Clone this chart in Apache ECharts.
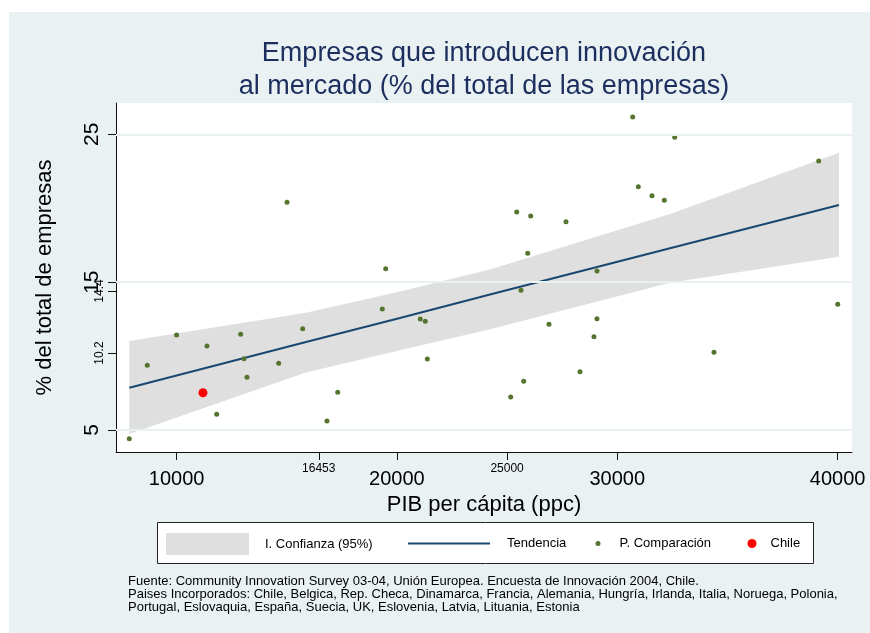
<!DOCTYPE html>
<meta charset="utf-8">
<style>
html, body { margin: 0; padding: 0; background: #fff; }
#main { width: 870px; height: 633px; }
</style>
<div id="main"></div>
<script src="https://cdn.jsdelivr.net/npm/echarts@6.0.0/dist/echarts.min.js"></script>
<script>

// PIB per capita (ppc) / % empresas, paises de comparacion
var compX = [7853, 8670, 10000, 11380, 11820, 12909, 13059, 13195, 14634, 15011,
    15723, 16826, 17312, 19336, 19490, 21061, 21288, 21378, 30701, 32607,
    39143, 30955, 31576, 32135, 25436, 26071, 27673, 25935, 29080, 25631,
    40005, 26902, 29080, 28944, 34390, 28309, 25754, 25164];
var compY = [4.41, 9.38, 11.43, 10.68, 6.06, 11.47, 9.82, 8.56, 9.51, 20.4,
    11.85, 5.61, 7.55, 13.18, 15.91, 12.51, 12.35, 9.8, 26.17, 24.8,
    23.19, 21.46, 20.85, 20.54, 19.74, 19.47, 19.09, 16.95, 15.75, 14.45,
    13.5, 12.15, 12.53, 11.31, 10.25, 8.94, 8.29, 7.23];

var chileX = [11198];
var chileY = [7.52];

// recta de tendencia e intervalo de confianza
var fitX = [7853, 15873, 20139, 24224, 32394, 40064];
var fitY = [7.86, 10.95, 12.58, 14.16, 17.29, 20.22];
var ciLow = [4.73, 8.88, 10.39, 11.81, 14.96, 16.72];
var ciHigh = [11.02, 12.93, 14.37, 15.85, 19.61, 23.76];

var xTicksBig = [10000, 20000, 30000, 40000];
var xTicksSmall = [16453, 25000];
var yTicksBig = [5, 15, 25];
var yTicksSmall = [10.2, 14.4];

var FONT = "'Liberation Sans', Arial, sans-serif";

function zip(a, b) {
    return a.map(function (v, i) { return [v, b[i]]; });
}
function plain(v) { return String(v); }

var chart = echarts.init(document.getElementById('main'));

var xBase = {
    type: 'value', min: 7250, max: 40654, gridIndex: 0, position: 'bottom',
    splitLine: { show: false }
};
var yBase = {
    type: 'value', min: 3.51, max: 27.12, gridIndex: 0, position: 'left',
    splitLine: { show: false }
};

chart.setOption({
    animation: false,
    textStyle: { fontFamily: FONT },
    graphic: [
        { type: 'rect', z: -10, shape: { x: 9, y: 12, width: 861, height: 621 },
          style: { fill: '#EAF1F3' } },
        { type: 'rect', z: -1, shape: { x: 157.5, y: 522.5, width: 656, height: 41 },
          style: { fill: '#fff', stroke: '#222', lineWidth: 1 } }
    ],
    title: [{
        text: 'Empresas que introducen innovación\nal mercado (% del total de las empresas)',
        left: 484, top: 37, textAlign: 'center', padding: 0,
        textStyle: { fontFamily: FONT, fontSize: 27, fontWeight: 'normal', color: '#1C2E5E', lineHeight: 33 }
    }, {
        text: 'Fuente: Community Innovation Survey 03-04, Unión Europea. Encuesta de Innovación 2004, Chile.\n' +
            'Paises Incorporados: Chile, Belgica, Rep. Checa, Dinamarca, Francia, Alemania, Hungría, Irlanda, Italia, Noruega, Polonia,\n' +
            'Portugal, Eslovaquia, España, Suecia, UK, Eslovenia, Latvia, Lituania, Estonia',
        left: 128, top: 575, padding: 0,
        textStyle: { fontFamily: FONT, fontSize: 13, fontWeight: 'normal', color: '#000', lineHeight: 13 }
    }],
    legend: [{
        left: 166, top: 533, padding: 0, itemWidth: 83, itemHeight: 22,
        data: [{ name: 'I. Confianza (95%)', icon: 'rect', itemStyle: { color: '#DFDFDF' } }],
        textStyle: { fontFamily: FONT, fontSize: 13, color: '#000', padding: [0, 0, 0, 11] }
    }, {
        left: 408, top: 537, padding: 0, itemWidth: 82, itemHeight: 2,
        data: [{ name: 'Tendencia', icon: 'rect', itemStyle: { color: '#1A476F' } }],
        textStyle: { fontFamily: FONT, fontSize: 13, color: '#000', padding: [0, 0, 0, 12] }
    }, {
        left: 595.5, top: 537, padding: 0, itemWidth: 5, itemHeight: 5,
        data: [{ name: 'P. Comparación', icon: 'circle', itemStyle: { color: '#55752F' } }],
        textStyle: { fontFamily: FONT, fontSize: 13, color: '#000', padding: [0, 0, 0, 14] }
    }, {
        left: 747.5, top: 537, padding: 0, itemWidth: 9, itemHeight: 9,
        data: [{ name: 'Chile', icon: 'circle', itemStyle: { color: '#FF0000' } }],
        textStyle: { fontFamily: FONT, fontSize: 13, color: '#000', padding: [0, 0, 0, 9] }
    }],
    grid: {
        left: 116, right: 18, top: 103, bottom: 181,
        show: true, backgroundColor: '#fff', borderWidth: 0
    },
    xAxis: [
        Object.assign({}, xBase, {
            name: 'PIB per cápita (ppc)', nameLocation: 'middle', nameGap: 36,
            nameTextStyle: { fontFamily: FONT, fontSize: 22, color: '#000' },
            axisLine: { show: true, lineStyle: { color: '#111', width: 1 } },
            axisTick: { show: true, length: 8, customValues: xTicksBig, lineStyle: { color: '#111' } },
            axisLabel: { customValues: xTicksBig, formatter: plain, margin: 17, fontFamily: FONT, fontSize: 20, color: '#000' }
        }),
        Object.assign({}, xBase, {
            axisLine: { show: false },
            axisTick: { show: true, length: 8, customValues: xTicksSmall, lineStyle: { color: '#111' } },
            axisLabel: { customValues: xTicksSmall, formatter: plain, margin: 11, fontFamily: FONT, fontSize: 12, color: '#000' }
        })
    ],
    yAxis: [
        Object.assign({}, yBase, {
            name: '% del total de empresas', nameLocation: 'middle', nameGap: 60,
            nameTextStyle: { fontFamily: FONT, fontSize: 22, color: '#000' },
            axisLine: { show: true, lineStyle: { color: '#111', width: 1 } },
            axisTick: { show: true, length: 8, customValues: yTicksBig, lineStyle: { color: '#111' } },
            axisLabel: { customValues: yTicksBig, formatter: plain, rotate: 90, margin: 13, fontFamily: FONT, fontSize: 21, color: '#000' }
        }),
        Object.assign({}, yBase, {
            axisLine: { show: false },
            axisTick: { show: true, length: 8, customValues: yTicksSmall, lineStyle: { color: '#111' } },
            axisLabel: { customValues: yTicksSmall, formatter: plain, rotate: 90, margin: 10, fontFamily: FONT, fontSize: 12, color: '#000' }
        })
    ],
    series: [
        {
            // lineas de cuadricula
            type: 'line', data: [], z: 1, silent: true,
            markLine: {
                silent: true, symbol: 'none', label: { show: false },
                lineStyle: { color: '#EAF1F3', width: 2, type: 'solid' },
                data: yTicksBig.map(function (v) { return { yAxis: v }; })
            }
        },
        {
            name: 'I. Confianza (95%)', type: 'custom', z: 2,
            itemStyle: { color: '#DFDFDF' },
            data: [[fitX[0], ciLow[0]]],
            renderItem: function (params, api) {
                var pts = [];
                for (var i = 0; i < fitX.length; i++) pts.push(api.coord([fitX[i], ciHigh[i]]));
                for (var j = fitX.length - 1; j >= 0; j--) pts.push(api.coord([fitX[j], ciLow[j]]));
                return { type: 'polygon', shape: { points: pts }, style: { fill: '#DFDFDF' } };
            }
        },
        {
            name: 'Tendencia', type: 'line', z: 3, symbol: 'none',
            data: zip(fitX, fitY),
            lineStyle: { color: '#1A476F', width: 2 },
            itemStyle: { color: '#1A476F' }
        },
        {
            name: 'P. Comparación', type: 'scatter', z: 4, symbolSize: 5,
            data: zip(compX, compY),
            itemStyle: { color: '#55752F', opacity: 1 }
        },
        {
            name: 'Chile', type: 'scatter', z: 5, symbolSize: 9,
            data: zip(chileX, chileY),
            itemStyle: { color: '#FF0000', opacity: 1 }
        }
    ]
});

</script>
